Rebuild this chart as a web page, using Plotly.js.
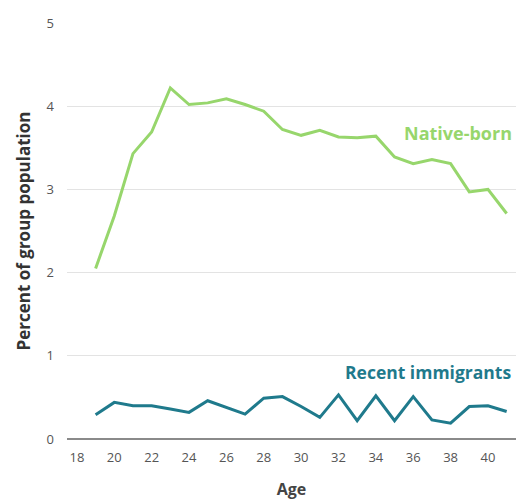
<!DOCTYPE html>
<html>
<head>
<meta charset="utf-8">
<script src="https://cdn.plot.ly/plotly-3.0.1.min.js"></script>
<style>html,body{margin:0;padding:0;background:#fff}#chart{width:516px;height:503px}</style>
</head>
<body>
<div id="chart"></div>
<script>
const ages = [19,20,21,22,23,24,25,26,27,28,29,30,31,32,33,34,35,36,37,38,39,40,41];
const nativeBorn = [2.05,2.68,3.43,3.69,4.22,4.02,4.04,4.09,4.02,3.94,3.72,3.65,3.71,3.63,3.62,3.64,3.39,3.31,3.36,3.31,2.97,3.00,2.71];
const recentImmigrants = [0.29,0.44,0.40,0.40,0.36,0.32,0.46,0.38,0.30,0.49,0.51,0.39,0.26,0.53,0.22,0.52,0.22,0.51,0.23,0.19,0.39,0.40,0.33];
const xTicks = [18,20,22,24,26,28,30,32,34,36,38,40];
const yTicks = [0,1,2,3,4,5];
const seriesNames = ["Native-born","Recent immigrants"];

const green = "#97d66c", teal = "#1f7a8c";
const fontFam = "Open Sans, sans-serif";

const data = [
  {x: ages, y: nativeBorn, type: "scatter", mode: "lines", name: seriesNames[0], line: {color: green, width: 3}},
  {x: ages, y: recentImmigrants, type: "scatter", mode: "lines", name: seriesNames[1], line: {color: teal, width: 3}}
];

const layout = {
  width: 516, height: 503,
  margin: {l: 67, r: 0, t: 23, b: 64},
  paper_bgcolor: "#fff", plot_bgcolor: "#fff",
  showlegend: false,
  font: {family: fontFam, color: "#555", size: 13},
  xaxis: {
    range: [17.47, 41.5], tickvals: xTicks, ticktext: xTicks.map(String),
    showgrid: false, zeroline: false, showline: false, ticks: "",
    ticklabelstandoff: 9,
    tickfont: {size: 13, color: "#555"},
    title: {text: "Age", font: {size: 16, color: "#444", weight: "bold"}, standoff: 18}
  },
  yaxis: {
    range: [0, 5], tickvals: yTicks, ticktext: yTicks.map(String),
    showgrid: true, gridcolor: "#e3e3e3", gridwidth: 1,
    zeroline: true, zerolinecolor: "#8a8a8a", zerolinewidth: 1.5,
    showline: false, ticks: "",
    ticklabelstandoff: 12,
    tickfont: {size: 13, color: "#555"},
    title: {text: "Percent of group population", font: {size: 17, color: "#333", weight: "bold"}, standoff: 11}
  },
  annotations: [
    {xref: "paper", yref: "y", x: 0.995, y: 3.675, xanchor: "right", yanchor: "middle",
     text: seriesNames[0], showarrow: false, font: {size: 18, color: green, weight: "bold", family: fontFam}},
    {xref: "paper", yref: "y", x: 0.993, y: 0.80, xanchor: "right", yanchor: "middle",
     text: seriesNames[1], showarrow: false, font: {size: 17.5, color: teal, weight: "bold", family: fontFam}}
  ]
};

Plotly.newPlot("chart", data, layout, {displayModeBar: false, staticPlot: true});
</script>
</body>
</html>
